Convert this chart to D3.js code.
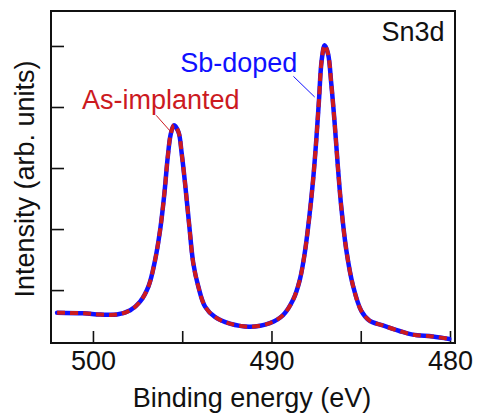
<!DOCTYPE html>
<html>
<head>
<meta charset="utf-8">
<script src="https://cdn.jsdelivr.net/npm/d3@7"></script>
<style>
  body { margin: 0; background: #fff; }
  svg { display: block; font-family: Arial, "Liberation Sans", sans-serif; }
</style>
</head>
<body>
<svg id="chart"></svg>
<script>
// binding energy (eV)
const energy = [502.01, 500.52, 499.59, 498.66, 497.91, 497.36, 496.89, 496.52, 496.24, 496.0,
  495.81, 495.64, 495.46, 495.21, 495.03, 494.82, 494.60, 494.38, 494.10, 493.72,
  493.17, 492.33, 491.21, 490.09, 489.35, 488.79, 488.42, 488.14, 487.90, 487.67,
  487.49, 487.34, 487.19, 487.02, 486.83, 486.65, 486.46, 486.28, 486.09, 485.81,
  485.44, 484.97, 484.51, 483.76, 482.83, 482.09, 480.97, 480.04];

const sbDoped = [0.63, 0.62, 0.60, 0.60, 0.67, 0.81, 1.06, 1.49, 1.98, 2.58,
  3.18, 3.56, 3.70, 3.59, 3.24, 2.69, 2.04, 1.44, 1.06, 0.73,
  0.56, 0.45, 0.40, 0.46, 0.59, 0.84, 1.16, 1.60, 2.15, 2.80,
  3.46, 4.11, 4.76, 5.01, 4.87, 4.38, 3.73, 3.02, 2.36, 1.66,
  1.08, 0.66, 0.50, 0.42, 0.33, 0.27, 0.24, 0.20];

const asImplanted = [0.63, 0.62, 0.60, 0.60, 0.67, 0.81, 1.06, 1.49, 1.98, 2.58,
  3.18, 3.56, 3.70, 3.59, 3.24, 2.69, 2.04, 1.44, 1.06, 0.73,
  0.56, 0.45, 0.40, 0.46, 0.59, 0.84, 1.16, 1.60, 2.15, 2.80,
  3.46, 4.11, 4.76, 5.01, 4.87, 4.38, 3.73, 3.02, 2.36, 1.66,
  1.08, 0.66, 0.50, 0.42, 0.33, 0.27, 0.24, 0.20];

const xTicks = [500, 495, 490, 485, 480];
const xTickLabels = ['500', '', '490', '', '480'];
const yTicks = [1, 2, 3, 4, 5];

const width = 478, height = 416;
const margin = { top: 11, right: 23, bottom: 73, left: 51 };

const svg = d3.select('#chart')
  .attr('width', width)
  .attr('height', height);

const x = d3.scaleLinear()
  .domain([502.35, 479.72])
  .range([margin.left, width - margin.right]);
const y = d3.scaleLinear()
  .domain([0.133, 5.573])
  .range([height - margin.bottom, margin.top]);

/* axes, ticks pointing inward */
const xAxis = d3.axisBottom(x)
  .tickValues(xTicks)
  .tickSizeInner(-12)
  .tickSizeOuter(0)
  .tickPadding(8)
  .tickFormat((d, i) => xTickLabels[i]);
const yAxis = d3.axisLeft(y)
  .tickValues(yTicks)
  .tickSizeInner(-13)
  .tickSizeOuter(0)
  .tickFormat('');

const gx = svg.append('g')
  .attr('transform', `translate(0, ${height - margin.bottom})`)
  .call(xAxis);
gx.select('.domain').remove();
gx.selectAll('line').attr('stroke', '#111').attr('stroke-width', 1.6);
gx.selectAll('text')
  .attr('fill', '#111')
  .style('font-size', '27px');

const gy = svg.append('g')
  .attr('transform', `translate(${margin.left}, 0)`)
  .call(yAxis);
gy.select('.domain').remove();
gy.selectAll('line').attr('stroke', '#111').attr('stroke-width', 1.6);

/* frame */
svg.append('rect')
  .attr('x', margin.left)
  .attr('y', margin.top)
  .attr('width', width - margin.left - margin.right)
  .attr('height', height - margin.top - margin.bottom)
  .attr('fill', 'none')
  .attr('stroke', '#111')
  .attr('stroke-width', 2);

/* curves */
const pts = (vals) => energy.map((e, i) => [e, vals[i]]);
const line = d3.line()
  .x(d => x(d[0]))
  .y(d => y(d[1]))
  .curve(d3.curveCatmullRom.alpha(0.5));

svg.append('path')
  .datum(pts(sbDoped))
  .attr('d', line)
  .attr('fill', 'none')
  .attr('stroke', '#1010ff')
  .attr('stroke-width', 4.5)
  .attr('stroke-linejoin', 'round')
  .attr('stroke-linecap', 'round');

svg.append('path')
  .datum(pts(asImplanted))
  .attr('d', line)
  .attr('fill', 'none')
  .attr('stroke', '#cc1a1f')
  .attr('stroke-width', 4)
  .attr('stroke-dasharray', '8,5');

/* labels and leader lines */
svg.append('line')
  .attr('x1', x(496.46)).attr('y1', y(3.864))
  .attr('x2', x(495.68)).attr('y2', y(3.607))
  .attr('stroke', '#cc1a1f')
  .attr('stroke-width', 1);
svg.append('line')
  .attr('x1', x(488.77)).attr('y1', y(4.502))
  .attr('x2', x(487.58)).attr('y2', y(4.164))
  .attr('stroke', '#1010ff')
  .attr('stroke-width', 1);

svg.append('text')
  .attr('x', x(500.61))
  .attr('y', y(3.974))
  .attr('fill', '#cc1a1f')
  .style('font-size', '27px')
  .text('As-implanted');

svg.append('text')
  .attr('x', x(495.11))
  .attr('y', y(4.573))
  .attr('fill', '#1010ff')
  .style('font-size', '27px')
  .text('Sb-doped');

svg.append('text')
  .attr('x', x(480.30))
  .attr('y', y(5.08))
  .attr('text-anchor', 'end')
  .attr('fill', '#111')
  .style('font-size', '27px')
  .text('Sn3d');

/* axis titles */
svg.append('text')
  .attr('x', 252)
  .attr('y', 407)
  .attr('text-anchor', 'middle')
  .attr('fill', '#111')
  .style('font-size', '27px')
  .text('Binding energy (eV)');

svg.append('text')
  .attr('transform', 'translate(33.5, 179) rotate(-90)')
  .attr('text-anchor', 'middle')
  .attr('fill', '#111')
  .style('font-size', '27px')
  .text('Intensity (arb. units)');
</script>
</body>
</html>
